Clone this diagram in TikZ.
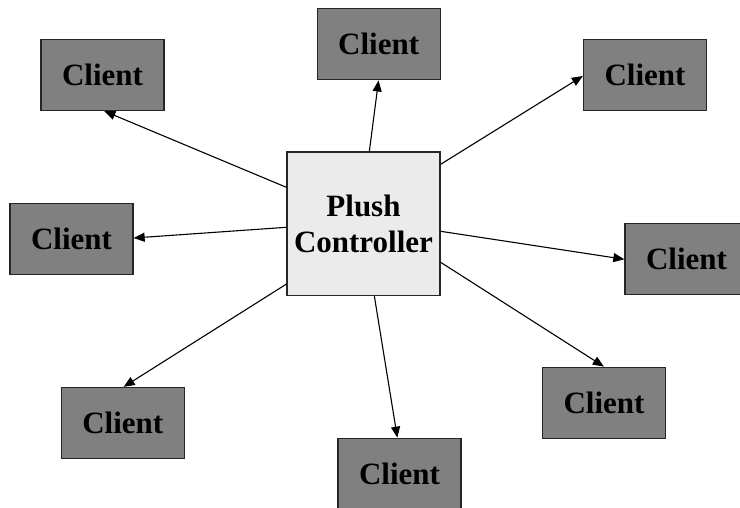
\documentclass[tikz,border=0pt]{standalone}
\usepackage{fontspec}
\setmainfont{Liberation Serif}
\usetikzlibrary{calc,arrows.meta}
\definecolor{clientgray}{HTML}{808080}
\definecolor{ctlgray}{HTML}{EBEBEB}
\tikzset{
  client/.style={draw=black!85, line width=1.3pt, fill=clientgray, minimum width=123pt, minimum height=71pt, inner sep=0pt, font=\fontsize{31}{35}\selectfont\bfseries},
  ctl/.style={draw=black!85, line width=1.3pt, fill=ctlgray, minimum width=153pt, minimum height=143.5pt, inner sep=0pt, align=center, font=\fontsize{31}{36}\selectfont\bfseries},
  conn/.style={line width=1.1pt, -{Triangle[length=11pt,width=9pt]}}
}
\begin{document}
\begin{tikzpicture}[x=1pt,y=-1pt]
\useasboundingbox (0,0) rectangle (740,508);
\node[ctl] (ctl) at (363.5,223.7) {Plush\\Controller};
\node[client] (tl) at (102.5,75) {Client};
\node[client] (t) at (378.7,44.3) {Client};
\node[client] (tr) at (645,75) {Client};
\node[client] (l) at (71.5,239) {Client};
\node[client] (r) at (686.5,259.3) {Client};
\node[client] (bl) at (122.8,423) {Client};
\node[client] (b) at (399.5,473.8) {Client};
\node[client] (br) at (604,402.7) {Client};
\draw[conn] ($(ctl.north west)+(0,36)$) -- ($(tl.south west)+(64,0)$);
\draw[conn] ($(ctl.north west)+(83,0)$) -- ($(t.south west)+(62,0)$);
\draw[conn] ($(ctl.north east)+(0,13)$) -- ($(tr.west)+(0,1)$);
\draw[conn] ($(ctl.north west)+(0,76)$) -- ($(l.east)+(0,-1)$);
\draw[conn] ($(ctl.north east)+(0,80)$) -- (r.west);
\draw[conn] ($(ctl.south west)+(0,-12)$) -- ($(bl.north west)+(63,0)$);
\draw[conn] ($(ctl.south west)+(88,0)$) -- ($(b.north west)+(60,0)$);
\draw[conn] ($(ctl.north east)+(0,111)$) -- ($(br.north west)+(62,0)$);
\end{tikzpicture}
\end{document}
